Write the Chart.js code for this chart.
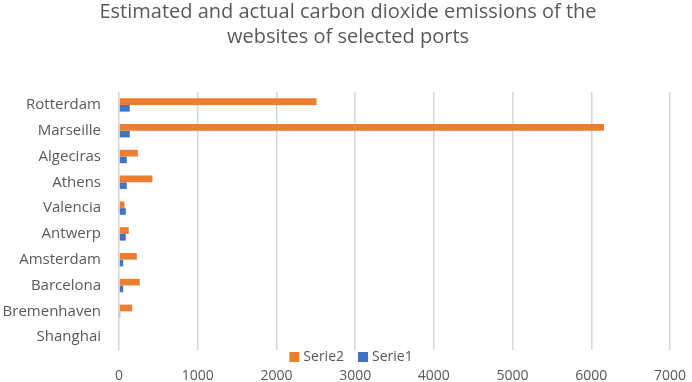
<!DOCTYPE html>
<html>
<head>
<meta charset="utf-8">
<script src="https://cdn.jsdelivr.net/npm/chart.js@4"></script>
<style>
  html, body { margin: 0; padding: 0; background: #fff; }
  canvas { display: block; }
</style>
</head>
<body>
<canvas id="grafico" width="692" height="382"></canvas>
<script>
// dados
const portos = ['Rotterdam', 'Marseille', 'Algeciras', 'Athens', 'Valencia', 'Antwerp', 'Amsterdam', 'Barcelona', 'Bremenhaven', 'Shanghai'];
const serie2 = [2510, 6160, 239, 425, 70, 124, 226, 264, 168, 0];
const serie1 = [137, 137, 99, 99, 86, 86, 53, 53, 15, 0];
const ticksX = [0, 1000, 2000, 3000, 4000, 5000, 6000, 7000];
const titulo = ['Estimated and actual carbon dioxide emissions of the', 'websites of selected ports'];

const fonte = '"Open Sans", sans-serif';
const cinza = '#595959';

// legenda desenhada entre a área do gráfico e os rótulos do eixo (como no original)
const legendaPlugin = {
    id: 'legendaBaixo',
    afterDraw(chart) {
        const ctx = chart.ctx;
        const ds = chart.data.datasets;
        ctx.save();
        ctx.font = '14px ' + fonte;
        ctx.textBaseline = 'middle';
        const y = chart.chartArea.bottom + 7;
        const box = 10, gap = 4, entre = 14;
        let total = 0;
        ds.forEach((d, i) => { total += box + gap + ctx.measureText(d.label).width + (i < ds.length - 1 ? entre : 0); });
        let x = chart.width / 2 + 5 - total / 2;
        ds.forEach(d => {
            ctx.fillStyle = d.backgroundColor;
            ctx.fillRect(x, y - box / 2, box, box);
            x += box + gap;
            ctx.fillStyle = cinza;
            ctx.fillText(d.label, x, y);
            x += ctx.measureText(d.label).width + entre;
        });
        ctx.restore();
    }
};

const ctx = document.getElementById('grafico').getContext('2d');
new Chart(ctx, {
    type: 'bar',
    data: {
        labels: portos,
        datasets: [
            { label: 'Serie2', data: serie2, backgroundColor: '#ED7D31' },
            { label: 'Serie1', data: serie1, backgroundColor: '#4472C4' }
        ]
    },
    options: {
        indexAxis: 'y',
        responsive: false,
        animation: false,
        devicePixelRatio: 1,
        layout: { padding: { top: 0, right: 0, bottom: 0, left: 4 } },
        datasets: { bar: { barPercentage: 1, categoryPercentage: 0.52 } },
        plugins: {
            legend: { display: false },
            tooltip: { enabled: false },
            title: {
                display: true,
                text: titulo,
                color: cinza,
                font: { family: fonte, size: 20, weight: 'normal', lineHeight: 1.25 },
                padding: { top: 0, bottom: 42 }
            }
        },
        scales: {
            x: {
                min: 0,
                max: 7000,
                afterBuildTicks: s => { s.ticks = ticksX.map(v => ({ value: v })); },
                afterFit: s => { s.height = 32; s.paddingLeft = 0; s.paddingRight = 22; },
                grid: { color: '#d6d6d6', lineWidth: 1.5, drawTicks: false },
                border: { display: false },
                ticks: {
                    color: cinza, padding: 18, maxRotation: 0, autoSkip: false,
                    font: { family: fonte, size: 14 },
                    callback: v => String(v)
                }
            },
            y: {
                afterFit: s => { s.width = 115; },
                grid: { display: false, drawTicks: false },
                border: { display: false },
                ticks: { color: cinza, padding: 18, autoSkip: false, font: { family: fonte, size: 15 } }
            }
        }
    },
    plugins: [legendaPlugin]
});
</script>
</body>
</html>
